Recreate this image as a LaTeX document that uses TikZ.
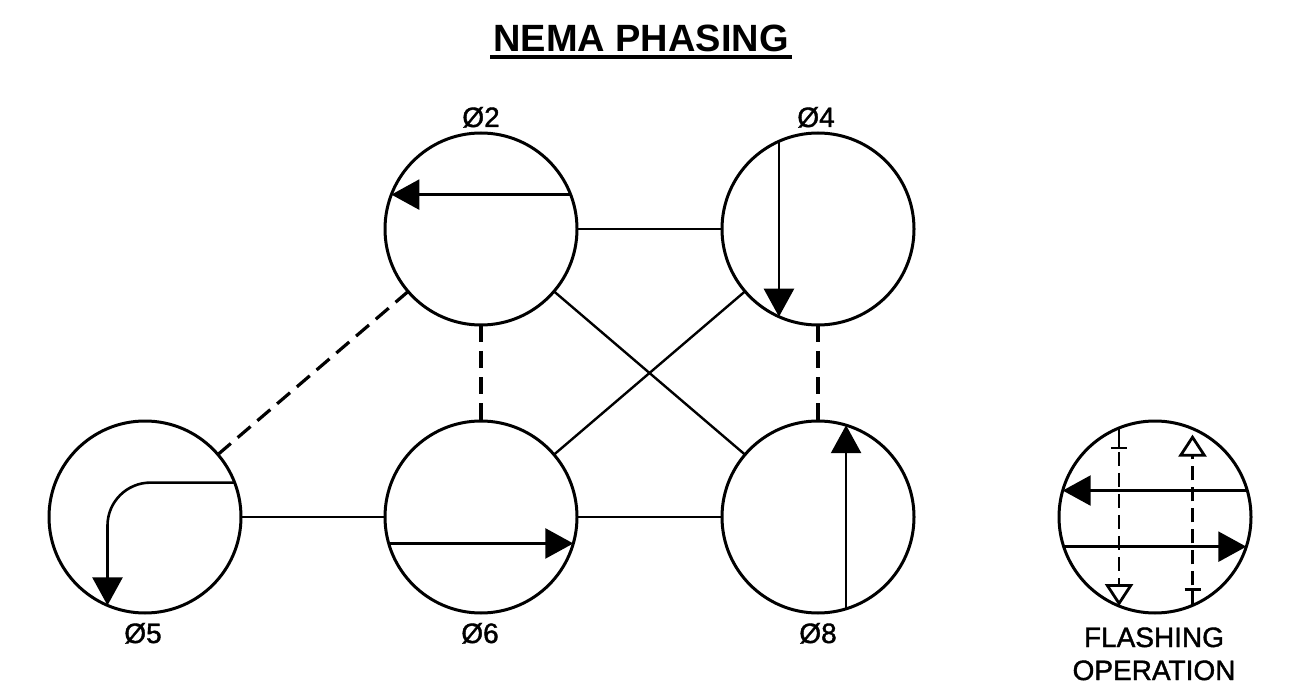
\documentclass[tikz,border=0pt]{standalone}
\usepackage{fontspec}
\setmainfont{Liberation Sans}
\newfontface\lblfont{Liberation Sans}[FakeBold=1.4]
\usetikzlibrary{arrows.meta,calc}
\begin{document}
\begin{tikzpicture}[x=1pt,y=-1pt,
 phase/.style={circle,draw,line width=3pt,minimum size=192pt,inner sep=0pt,outer sep=0pt},
 link/.style={line width=2.4pt},
 dlink/.style={line width=3.2pt,dash pattern=on 17pt off 9pt},
 flow/.style={line width=2.6pt,-{Triangle[length=28pt,width=30pt]}},
 fdash/.style={line width=2.8pt,dash pattern=on 14pt off 7pt,dash phase=17pt},
 otip/.style={-{Triangle[open,length=22pt,width=28pt]}},
 lbl/.style={font=\lblfont\fontsize{28}{30}\selectfont,inner sep=0pt,anchor=base},
]
\useasboundingbox (0,0) rectangle (1314,692);
% title
\node[font=\fontsize{38}{40}\selectfont\bfseries,inner sep=0pt,anchor=base] (title) at (641,52) {NEMA PHASING};
\draw[line width=3.5pt] ($(title.base west)+(-3,5)$) -- ($(title.base east)+(3,5)$);
% circles
\node[phase] (c2) at (481,229) {};
\node[phase] (c4) at (818,229) {};
\node[phase] (c5) at (145,517) {};
\node[phase] (c6) at (481,517) {};
\node[phase] (c8) at (818,517) {};
\node[phase] (c9) at (1155,517) {};
% labels
\node[lbl] (l2) at (481,127) {Ø2};
\node[lbl] (l4) at (816,127) {Ø4};
\node[lbl] (l5) at (143,643) {Ø5};
\node[lbl] (l6) at (480,643) {Ø6};
\node[lbl] (l8) at (818,643) {Ø8};
\node[lbl] (l9a) at (1154,647) {FLASHING};
\node[lbl] (l9b) at (1154,680) {OPERATION};
% connectors
\draw[link] (c2) -- (c4);
\draw[link] (c5) -- (c6);
\draw[link] (c6) -- (c8);
\draw[link] (c2) -- (c8);
\draw[link] (c4) -- (c6);
\draw[dlink] (c2) -- (c6);
\draw[dlink] (c4) -- (c8);
\draw[dlink] (c5) -- (c2);
% movement arrows
\draw[flow] (c2.21) -- (c2.159);
\draw[flow] (c4.114) -- (c4.246);
\draw[flow,rounded corners=43pt] (c5.21) -- (c5.21 -| c5.247) -- (c5.247);
\draw[flow] (c6.196) -- (c6.-16);
\draw[flow] (c8.-73) -- (c8.73);
% flashing operation
\draw[flow] (c9.16) -- (c9.164);
\draw[flow] (c9.198) -- (c9.-18);
\draw[line width=2.6pt] (c9.112) -- ++(0,20) coordinate (tA);
\draw[line width=2.6pt] ($(tA)+(-8,0)$) -- ($(tA)+(8,0)$);
\draw[fdash,otip] (tA) -- (c9.248);
\draw[line width=2.6pt] (c9.-67) -- ++(0,-16) coordinate (tB);
\draw[line width=2.6pt] ($(tB)+(-8,0)$) -- ($(tB)+(8,0)$);
\draw[fdash,otip] (tB) -- ($(c9.67)+(0,6)$);
\end{tikzpicture}
\end{document}
